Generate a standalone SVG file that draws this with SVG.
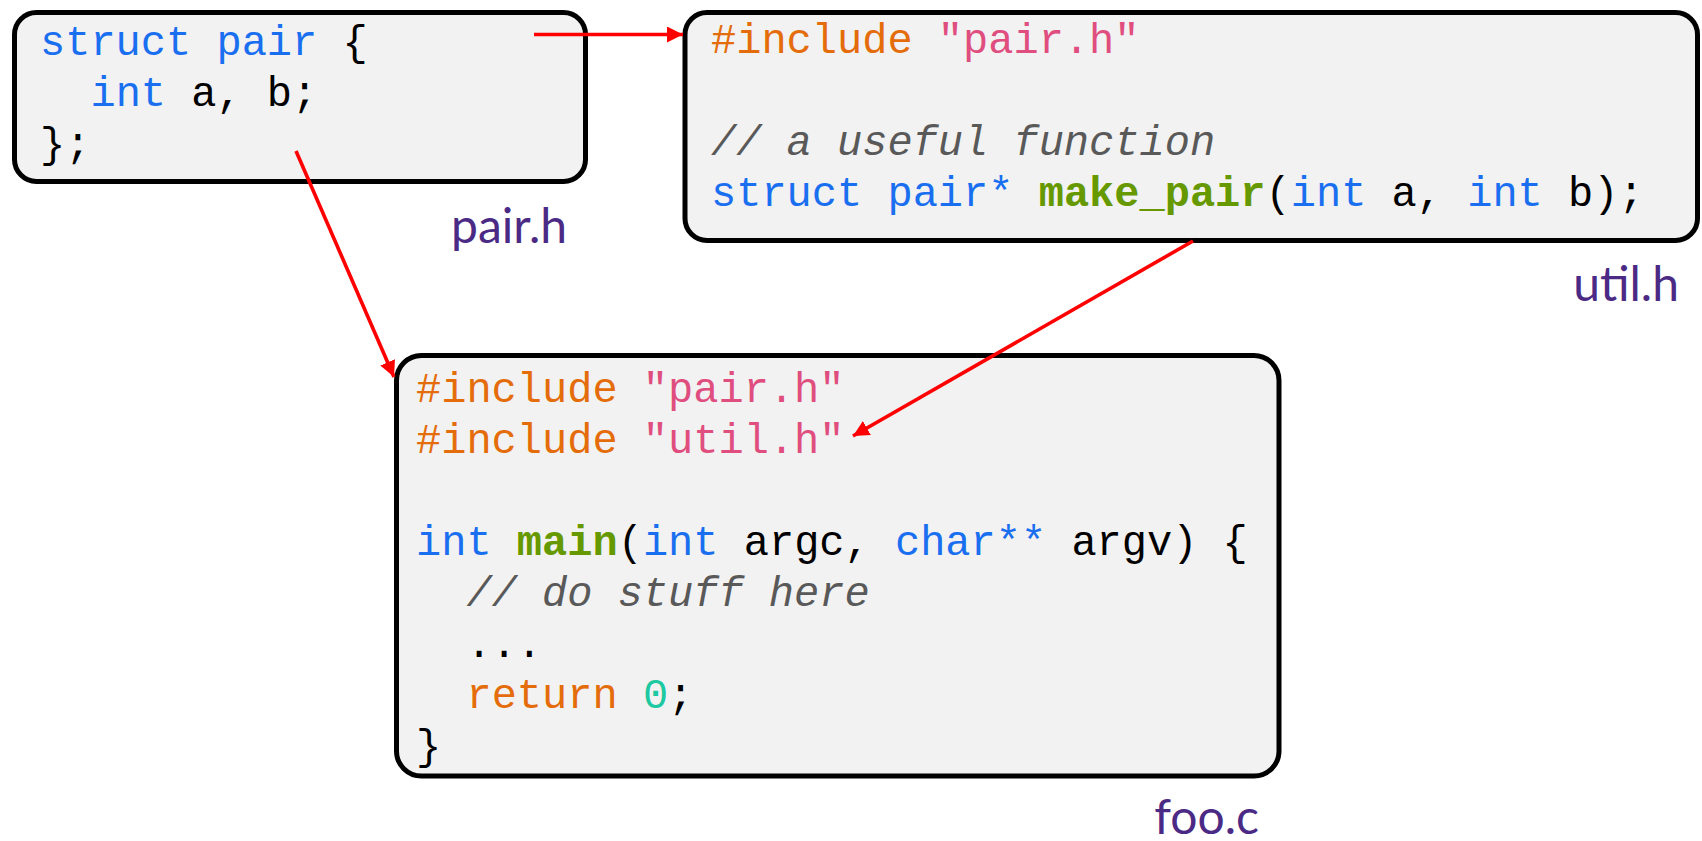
<svg xmlns="http://www.w3.org/2000/svg" width="1702" height="841" viewBox="0 0 1702 841">
<style>
.box{fill:#F2F2F2;stroke:#000;stroke-width:5}
.code{font-family:"Liberation Mono","Courier New",monospace;font-size:42px;fill:#000}
.kw{fill:#1A6FF0}
.pp{fill:#E46C0A}
.str{fill:#DF4E7E}
.fn{fill:#669900;font-weight:bold}
.cm{fill:#595959;font-style:italic}
.num{fill:#1CC9A0}
.lbl{font-family:Lato,"Open Sans",sans-serif;font-size:48px;fill:#4B2A85;text-anchor:end}
.arrow{stroke:#FF0000;stroke-width:3.6;fill:none}
</style>
<defs>
<marker id="ah" markerUnits="userSpaceOnUse" markerWidth="18" markerHeight="18" refX="16" refY="8" orient="auto">
<path d="M0,0 L16,8 L0,16 z" fill="#FF0000"/>
</marker>
</defs>
<g id="pair_h">
<rect class="box" x="14.5" y="12.5" width="571" height="169" rx="22"/>
<text class="code" xml:space="preserve"><tspan x="40" y="55"><tspan class="kw">struct pair</tspan> {</tspan><tspan x="40" y="106">  <tspan class="kw">int</tspan> a, b;</tspan><tspan x="40" y="157">};</tspan></text>
<text class="lbl" x="567" y="243">pair.h</text>
</g>
<g id="util_h">
<rect class="box" x="685" y="12.5" width="1012.5" height="228" rx="22"/>
<text class="code" xml:space="preserve"><tspan x="711" y="53"><tspan class="pp">#include</tspan> <tspan class="str">"pair.h"</tspan></tspan><tspan x="711" y="155" class="cm">// a useful function</tspan><tspan x="711" y="206"><tspan class="kw">struct pair*</tspan> <tspan class="fn">make_pair</tspan>(<tspan class="kw">int</tspan> a, <tspan class="kw">int</tspan> b);</tspan></text>
<text class="lbl" x="1679" y="301">util.h</text>
</g>
<g id="foo_c">
<rect class="box" x="396.5" y="355.5" width="882.5" height="420.5" rx="25"/>
<text class="code" xml:space="preserve"><tspan x="416" y="402"><tspan class="pp">#include</tspan> <tspan class="str">"pair.h"</tspan></tspan><tspan x="416" y="453"><tspan class="pp">#include</tspan> <tspan class="str">"util.h"</tspan></tspan><tspan x="416" y="555"><tspan class="kw">int</tspan> <tspan class="fn">main</tspan>(<tspan class="kw">int</tspan> argc, <tspan class="kw">char**</tspan> argv) {</tspan><tspan x="416" y="606">  <tspan class="cm">// do stuff here</tspan></tspan><tspan x="416" y="657">  ...</tspan><tspan x="416" y="708">  <tspan class="pp">return</tspan> <tspan class="num">0</tspan>;</tspan><tspan x="416" y="759">}</tspan></text>
<text class="lbl" x="1259" y="834">foo.c</text>
</g>
<g id="connectors">
<line class="arrow" x1="534" y1="34.5" x2="683" y2="34.5" marker-end="url(#ah)"/>
<line class="arrow" x1="296" y1="151" x2="394" y2="377" marker-end="url(#ah)"/>
<line class="arrow" x1="1193" y1="241" x2="853" y2="436" marker-end="url(#ah)"/>
</g>
</svg>
